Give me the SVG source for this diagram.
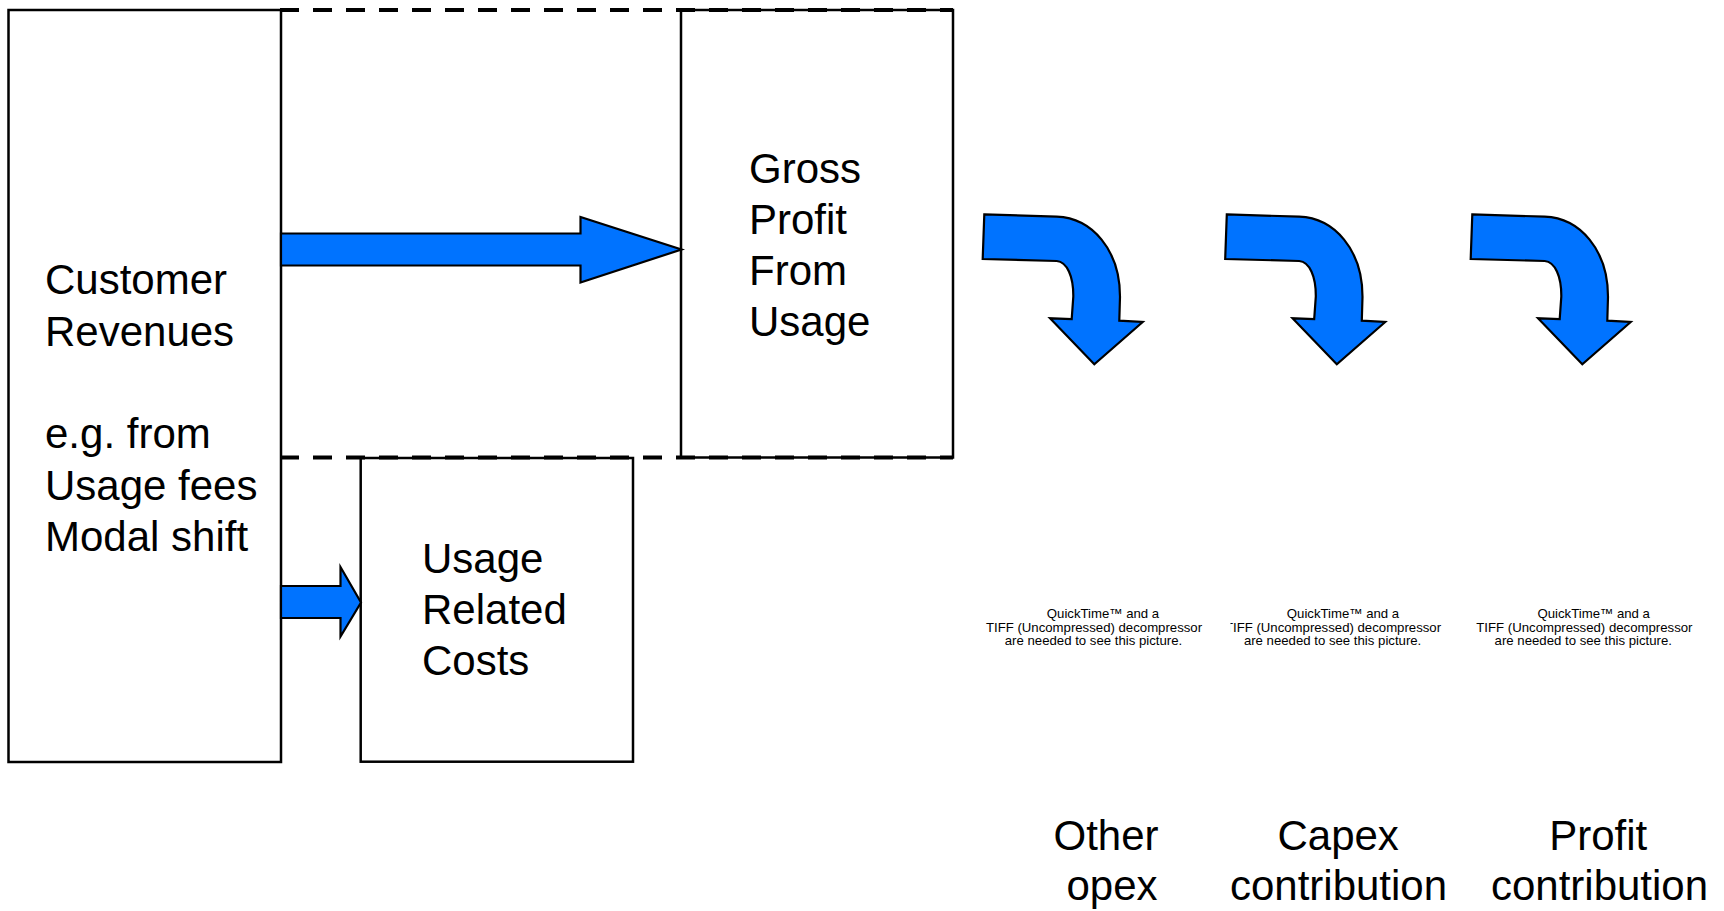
<svg xmlns="http://www.w3.org/2000/svg" width="1724" height="911" viewBox="0 0 1724 911">
  <style>
    .box { fill: none; stroke: #000; stroke-width: 2.5; }
    .dash { fill: none; stroke: #000; stroke-width: 4; stroke-dasharray: 19 14; }
    .arrow { fill: #0073FF; stroke: #000; stroke-width: 2.2; stroke-linejoin: miter; }
    .big { font-family: "Liberation Sans", Arial, sans-serif; font-size: 42px; fill: #000; }
    .qt { font-family: "Liberation Sans", Arial, sans-serif; font-size: 13.2px; fill: #000; text-anchor: middle; }
  </style>
  <defs>
    <path id="curved" d="M 984.3 214.3 L 1056.7 216.7 C 1092 218 1120 250 1120 296.7 L 1119.3 320.7 L 1142.7 322 L 1094.3 364.3 L 1050 318.3 L 1071.7 319 L 1073.3 296.7 C 1073.5 276 1067 262 1056.7 261 L 982.7 259 Z"/>
    <clipPath id="qt2clip"><rect x="1230.5" y="590" width="250" height="70"/></clipPath>
  </defs>
  <rect width="1724" height="911" fill="#fff"/>

  <g id="gross-profit-region">
    <line class="dash" x1="280" y1="10" x2="953" y2="10"/>
    <line class="dash" x1="280" y1="457.5" x2="953" y2="457.5"/>
  </g>

  <g id="customer-revenues">
    <rect class="box" x="8.5" y="10" width="272.5" height="752"/>
    <text class="big" x="45">
      <tspan x="45" y="294">Customer</tspan>
      <tspan x="45" y="345.5">Revenues</tspan>
      <tspan x="45" y="448">e.g. from</tspan>
      <tspan x="45" y="499.5">Usage fees</tspan>
      <tspan x="45" y="551">Modal shift</tspan>
    </text>
  </g>

  <g id="gross-profit">
    <rect class="box" x="681" y="10" width="272" height="447.5"/>
    <text class="big">
      <tspan x="749" y="183">Gross</tspan>
      <tspan x="749" y="234">Profit</tspan>
      <tspan x="749" y="285">From</tspan>
      <tspan x="749" y="336">Usage</tspan>
    </text>
  </g>

  <g id="usage-related-costs">
    <rect class="box" x="360.7" y="458" width="272.3" height="303.7"/>
    <text class="big">
      <tspan x="422" y="573">Usage</tspan>
      <tspan x="422" y="624">Related</tspan>
      <tspan x="422" y="675">Costs</tspan>
    </text>
  </g>

  <g id="connectors">
    <path class="arrow" d="M 281 233.5 L 580.5 233.5 L 580.5 217 L 681.5 249.5 L 580.5 282.5 L 580.5 265.5 L 281 265.5 Z"/>
    <path class="arrow" d="M 281 586 L 340.5 586 L 340.5 567 L 361 602.5 L 340.5 636.5 L 340.5 618 L 281 618 Z"/>
    <use href="#curved" class="arrow"/>
    <use href="#curved" class="arrow" transform="translate(242.5,0)"/>
    <use href="#curved" class="arrow" transform="translate(488,0)"/>
  </g>

  <g id="placeholder-1">
    <text class="qt" x="1103" y="618">QuickTime™ and a</text>
    <text class="qt" x="1094" y="631.5">TIFF (Uncompressed) decompressor</text>
    <text class="qt" x="1093.5" y="645">are needed to see this picture.</text>
  </g>
  <g id="placeholder-2">
    <text class="qt" x="1343" y="618">QuickTime™ and a</text>
    <text class="qt" x="1333" y="631.5" clip-path="url(#qt2clip)">TIFF (Uncompressed) decompressor</text>
    <text class="qt" x="1332.6" y="645">are needed to see this picture.</text>
  </g>
  <g id="placeholder-3">
    <text class="qt" x="1593.7" y="618">QuickTime™ and a</text>
    <text class="qt" x="1584.4" y="631.5">TIFF (Uncompressed) decompressor</text>
    <text class="qt" x="1583.3" y="645">are needed to see this picture.</text>
  </g>

  <g id="label-other-opex">
    <text class="big">
      <tspan x="1053.5" y="850">Other</tspan>
      <tspan x="1066.5" y="900">opex</tspan>
    </text>
  </g>
  <g id="label-capex">
    <text class="big" text-anchor="middle">
      <tspan x="1344" y="850">Capex</tspan>
      <tspan x="1338.5" y="900">contribution</tspan>
    </text>
  </g>
  <g id="label-profit">
    <text class="big" text-anchor="middle">
      <tspan x="1604" y="850">Profit</tspan>
      <tspan x="1599.5" y="900">contribution</tspan>
    </text>
  </g>
</svg>
